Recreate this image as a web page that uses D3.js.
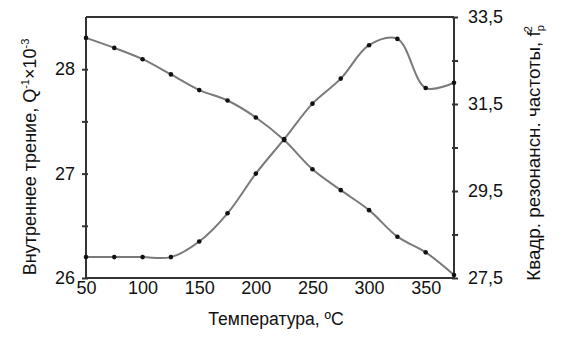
<!DOCTYPE html>
<html><head><meta charset="utf-8">
<script src="https://cdn.jsdelivr.net/npm/d3@7"></script>
<style>body{margin:0;background:#fff}svg{display:block}text{font-family:"Liberation Sans",Arial,sans-serif;fill:#111}</style>
</head><body><svg id="c" width="570" height="350"></svg>
<script>
const temps = [50,75,100,125,150,175,200,225,250,275,300,325,350,375];
const friction = [26.20,26.20,26.20,26.20,26.35,26.62,27.00,27.33,27.67,27.91,28.23,28.29,27.82,27.87];
const freqSq = [33.02,32.79,32.53,32.18,31.82,31.58,31.19,30.67,30.00,29.52,29.06,28.45,28.09,27.57];
const xTicks = [50,100,150,200,250,300,350];
const leftTicks = [26,26.5,27,27.5,28];
const leftLabels = [26,27,28];
const rightTicks = [27.5,28.5,29.5,30.5,31.5,32.5,33.5];
const rightLabels = [27.5,29.5,31.5,33.5];

const svg = d3.select("#c");
const m = {l:86, r:454, t:17, b:278};
const x = d3.scaleLinear().domain([50,375]).range([m.l,m.r]);
const yL = d3.scaleLinear().domain([26,28.5]).range([m.b,m.t]);
const yR = d3.scaleLinear().domain([27.5,33.5]).range([m.b,m.t]);
const axisColor = "#333";

// x axis labels
const gx = svg.append("g").attr("transform",`translate(0,${m.b})`)
  .call(d3.axisBottom(x).tickValues(xTicks).tickSize(0).tickPadding(3));
gx.select(".domain").remove();
gx.selectAll("text").style("font-size","18px").attr("fill","#111");

// left axis
const gl = svg.append("g").attr("transform",`translate(${m.l},0)`)
  .call(d3.axisLeft(yL).tickValues(leftTicks).tickSize(4).tickPadding(7)
    .tickFormat(d => leftLabels.includes(d) ? d : ""));
gl.select(".domain").remove();
gl.selectAll("line").attr("stroke",axisColor).attr("stroke-width",2).attr("x2",-4).attr("x1",2);
gl.selectAll("text").style("font-size","18px").attr("fill","#111");

// right axis
const gr = svg.append("g").attr("transform",`translate(${m.r},0)`)
  .call(d3.axisRight(yR).tickValues(rightTicks).tickSize(4).tickPadding(10)
    .tickFormat(d => rightLabels.includes(d) ? d3.format(".1f")(d).replace(".",",") : ""));
gr.select(".domain").remove();
gr.selectAll("line").attr("stroke",axisColor).attr("stroke-width",2).attr("x1",-2);
gr.selectAll("text").style("font-size","18px").attr("fill","#111");

// frame lines
const frame = svg.append("g").attr("stroke",axisColor).attr("stroke-width",2).attr("fill","none");
frame.append("path").attr("d",`M${m.l},${m.b}H${m.r}`);
frame.append("path").attr("d",`M${m.l},${m.t}V${m.b}`);
frame.append("path").attr("d",`M${m.r},${m.t}V${m.b}`);
frame.append("path").attr("d",`M${m.l},${m.t}H${m.r}`);

// lines
const lineL = d3.line().x((d,i)=>x(temps[i])).y(d=>yL(d)).curve(d3.curveCatmullRom.alpha(0.5));
const lineR = d3.line().x((d,i)=>x(temps[i])).y(d=>yR(d)).curve(d3.curveCatmullRom.alpha(0.5));
svg.append("path").datum(friction).attr("d",lineL).attr("fill","none").attr("stroke","#7a7a7a").attr("stroke-width",2);
svg.append("path").datum(freqSq).attr("d",lineR).attr("fill","none").attr("stroke","#7a7a7a").attr("stroke-width",2);
svg.append("g").selectAll("circle").data(friction).join("circle")
  .attr("cx",(d,i)=>x(temps[i])).attr("cy",d=>yL(d)).attr("r",2.3).attr("fill","#111");
svg.append("g").selectAll("circle").data(freqSq).join("circle")
  .attr("cx",(d,i)=>x(temps[i])).attr("cy",d=>yR(d)).attr("r",2.3).attr("fill","#111");

// titles
svg.append("text").attr("x",276).attr("y",325).attr("text-anchor","middle")
  .style("font-size","17.6px").text("Температура, ºC");

const tl = svg.append("text").attr("transform",`translate(36,157) rotate(-90)`)
  .attr("text-anchor","middle").style("font-size","18px");
tl.append("tspan").text("Внутреннее трение, Q");
tl.append("tspan").attr("dy",-7).style("font-size","11px").text("-1");
tl.append("tspan").attr("dy",7).text("×10");
tl.append("tspan").attr("dy",-7).style("font-size","11px").text("-3");

const tr = svg.append("text").attr("transform",`translate(540,153) rotate(-90)`)
  .attr("text-anchor","middle").style("font-size","18.8px");
tr.append("tspan").text("Квадр. резонансн. частоты, f");
tr.append("tspan").attr("dy",4).style("font-size","11px").text("р");
tr.append("tspan").attr("dx",-7).attr("dy",-12).style("font-size","11px").text("2");
</script></body></html>
